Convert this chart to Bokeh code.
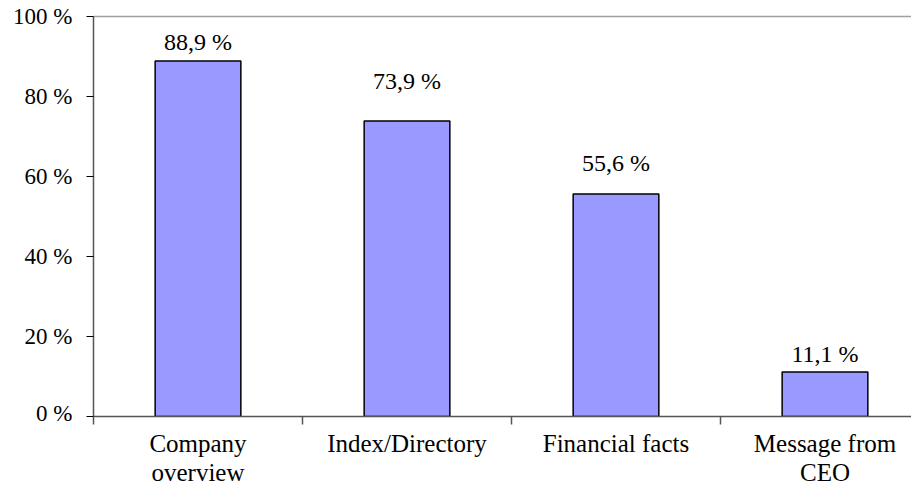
from bokeh.plotting import figure
from bokeh.layouts import column
from bokeh.models import Range1d, FixedTicker, LinearAxis, ColumnDataSource, LabelSet
from bokeh.core.properties import value
from bokeh.embed import file_html
from bokeh.resources import INLINE

categories = ["Company\noverview", "Index/Directory", "Financial facts", "Message from\nCEO"]
shares = [88.9, 73.9, 55.6, 11.1]
y_ticks = [0, 20, 40, 60, 80, 100]
y_tick_labels = ["0 %", "20 %", "40 %", "60 %", "80 %", "100 %"]

# style: pixel gap between bar top and label baseline (as in the original)
label_gap_px = [11, 32, 23, 10]

FONT = "'Liberation Serif', 'Times New Roman', serif"
pos = [i + 0.5 for i in range(len(categories))]
labels = [f"{v:.1f}".replace(".", ",") + " %" for v in shares]

src = ColumnDataSource(dict(x=pos, top=shares, lab=labels, off=list(label_gap_px)))
cat_src = ColumnDataSource(dict(x=pos, y=[1] * len(pos), cat=categories))

x_range = Range1d(0, 818 / 209)

p = figure(width=911, height=425, output_backend="svg", toolbar_location=None,
           x_range=x_range, y_range=Range1d(0, 100),
           min_border_left=93, min_border_right=0, min_border_top=16,
           min_border_bottom=9, x_axis_type=None, y_axis_type=None)
p.outline_line_color = None
p.grid.visible = False
p.background_fill_color = "white"
p.border_fill_color = "white"

p.vbar(x="x", top="top", width=0.41, bottom=0, source=src,
       fill_color="#9999FF", line_color="black", line_width=1.5)

bar_labels = LabelSet(x="x", y="top", text="lab", source=src, y_offset="off",
                      text_align="center", text_baseline="alphabetic",
                      text_font=FONT, text_font_size="24px", text_color="black")
p.add_layout(bar_labels)

axis_col = "#555555"

xa = LinearAxis(ticker=FixedTicker(ticks=[], minor_ticks=list(range(len(categories)))))
xa.major_label_standoff = 0
xa.major_tick_out = 0
xa.major_tick_in = 0
xa.minor_tick_out = 8
xa.minor_tick_in = 0
xa.minor_tick_line_color = axis_col
xa.minor_tick_line_width = 1.5
xa.axis_line_color = axis_col
xa.axis_line_width = 1.5
p.add_layout(xa, "below")

ya = LinearAxis(ticker=FixedTicker(ticks=y_ticks))
ya.major_label_overrides = {y_ticks[i]: y_tick_labels[i] for i in range(len(y_ticks))}
ya.major_tick_out = 7
ya.major_tick_in = 0
ya.major_tick_line_color = "black"
ya.minor_tick_line_color = None
ya.axis_line_color = axis_col
ya.axis_line_width = 1.5
ya.major_label_standoff = 14
ya.major_label_text_font = FONT
ya.major_label_text_font_size = "23px"
ya.major_label_text_color = "black"
p.add_layout(ya, "left")

ta = LinearAxis(ticker=FixedTicker(ticks=[]))
ta.axis_line_color = "#a0a0a0"
ta.axis_line_width = 1.5
ta.major_tick_line_color = None
ta.minor_tick_line_color = None
ta.major_label_standoff = 0
p.add_layout(ta, "above")

# category labels in a strip below, sharing the x range
q = figure(width=911, height=61, output_backend="svg", toolbar_location=None,
           x_range=x_range, y_range=Range1d(0, 1),
           min_border_left=93, min_border_right=0, min_border_top=0,
           min_border_bottom=0, x_axis_type=None, y_axis_type=None)
q.outline_line_color = None
q.grid.visible = False
q.background_fill_color = "white"
q.border_fill_color = "white"
q.text(x="x", y="y", text="cat", source=cat_src, y_offset=4,
       text_align="center", text_baseline="top", text_line_height=1.1,
       text_font=value(FONT), text_font_size="25px", text_color="black")

open("out.html", "w").write(file_html(column(p, q, spacing=0), INLINE))
